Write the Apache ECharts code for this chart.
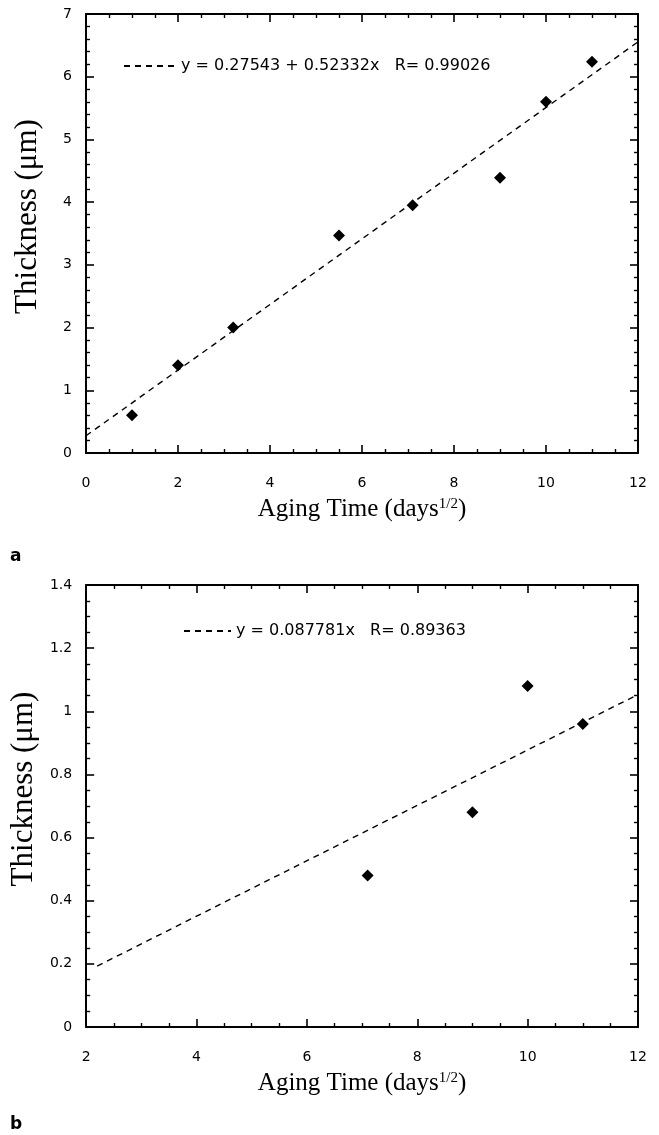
<!DOCTYPE html>
<html>
<head>
<meta charset="utf-8">
<script src="https://cdn.jsdelivr.net/npm/echarts@6/dist/echarts.min.js"></script>
<style>
html,body{margin:0;padding:0;background:#fff;}
#chart{width:659px;height:1135px;}
</style>
</head>
<body>
<div id="chart"></div>
<script>
// ---- Data ----
// Panel a
const agingA = [1, 2, 3.2, 5.5, 7.1, 9, 10, 11];
const thickA = [0.6, 1.4, 2.0, 3.47, 3.95, 4.39, 5.6, 6.24];
const fitAx = [0, 12];
const fitAy = [0.275, 6.555];
const fitAName = 'y = 0.27543 + 0.52332x   R= 0.99026';
// Panel b
const agingB = [7.1, 9, 10, 11];
const thickB = [0.48, 0.68, 1.08, 0.96];
const fitBx = [2.2, 12];
const fitBy = [0.193, 1.053];
const fitBName = 'y = 0.087781x   R= 0.89363';
// Axis texts
const xTitle = 'Aging Time (days{sup|1/2})';
const yTitle = 'Thickness (\u03bcm)';
const panelLabels = ['a', 'b'];

const toPairs = (xs, ys) => xs.map((x, i) => [x, ys[i]]);

const SANS = 'DejaVu Sans';
const SERIF = 'Liberation Serif';

function xAxisDef(grid, min, max, pos, showLabels) {
  return {
    type: 'value', gridIndex: grid, position: pos, min: min, max: max, interval: 2,
    axisLine: {show: true, onZero: false, lineStyle: {color: '#000', width: 2}},
    axisTick: {show: true, inside: true, length: 8, lineStyle: {color: '#000', width: 1.6}},
    minorTick: {show: true, splitNumber: 4, length: 4, lineStyle: {color: '#000', width: 1.4}},
    splitLine: {show: false},
    axisLabel: {show: showLabels, margin: 23, color: '#000', fontFamily: SANS, fontSize: 14},
    name: showLabels ? xTitle : '',
    nameLocation: 'middle',
    nameGap: 44,
    nameTextStyle: {
      color: '#000', fontFamily: SERIF, fontSize: 25, verticalAlign: 'top',
      rich: {sup: {fontFamily: SERIF, fontSize: 15, verticalAlign: 'top', color: '#000'}}
    }
  };
}
function yAxisDef(grid, min, max, interval, minorSplit, pos, showLabels) {
  return {
    type: 'value', gridIndex: grid, position: pos, min: min, max: max, interval: interval,
    axisLine: {show: true, onZero: false, lineStyle: {color: '#000', width: 2}},
    axisTick: {show: true, inside: true, length: 8, lineStyle: {color: '#000', width: 1.6}},
    minorTick: {show: true, splitNumber: minorSplit, length: 4, lineStyle: {color: '#000', width: 1.4}},
    splitLine: {show: false},
    axisLabel: {show: showLabels, margin: 14, color: '#000', fontFamily: SANS, fontSize: 14},
    name: showLabels ? yTitle : '',
    nameLocation: 'middle',
    nameGap: 43,
    nameTextStyle: {color: '#000', fontFamily: SERIF, fontSize: 31, padding: [0, 0, 0, 34]}
  };
}

const legendCommon = {
  padding: 0, itemHeight: 14, selectedMode: false,
  itemStyle: {opacity: 0},
  textStyle: {color: '#000', fontFamily: SANS, fontSize: 16}
};

const chart = echarts.init(document.getElementById('chart'), null, {renderer: 'canvas'});
chart.setOption({
  backgroundColor: '#fff',
  animation: false,
  grid: [
    {left: 86, top: 14, width: 552, height: 439},
    {left: 85, top: 585, width: 553, height: 442}
  ],
  xAxis: [
    xAxisDef(0, 0, 12, 'bottom', true),
    xAxisDef(0, 0, 12, 'top', false),
    xAxisDef(1, 2, 12, 'bottom', true),
    xAxisDef(1, 2, 12, 'top', false)
  ],
  yAxis: [
    yAxisDef(0, 0, 7, 1, 5, 'left', true),
    yAxisDef(0, 0, 7, 1, 5, 'right', false),
    yAxisDef(1, 0, 1.4, 0.2, 4, 'left', true),
    yAxisDef(1, 0, 1.4, 0.2, 4, 'right', false)
  ],
  legend: [
    Object.assign({data: [fitAName], left: 123, top: 58, itemWidth: 52}, legendCommon),
    Object.assign({data: [fitBName], left: 183, top: 623, itemWidth: 47}, legendCommon)
  ],
  series: [
    {name: fitAName, type: 'line', xAxisIndex: 0, yAxisIndex: 0, data: toPairs(fitAx, fitAy),
     symbol: 'none', itemStyle: {color: '#000'}, lineStyle: {color: '#000', width: 1.4, type: [6, 5]}, z: 2},
    {name: 'dataA', type: 'scatter', xAxisIndex: 0, yAxisIndex: 0, data: toPairs(agingA, thickA),
     symbol: 'diamond', symbolSize: 12, itemStyle: {color: '#000', opacity: 1}, z: 3},
    {name: fitBName, type: 'line', xAxisIndex: 2, yAxisIndex: 2, data: toPairs(fitBx, fitBy),
     symbol: 'none', itemStyle: {color: '#000'}, lineStyle: {color: '#000', width: 1.4, type: [6, 5]}, z: 2},
    {name: 'dataB', type: 'scatter', xAxisIndex: 2, yAxisIndex: 2, data: toPairs(agingB, thickB),
     symbol: 'diamond', symbolSize: 12, itemStyle: {color: '#000', opacity: 1}, z: 3}
  ],
  graphic: [
    {type: 'text', left: 10, top: 548, style: {text: panelLabels[0], fill: '#000', font: 'bold 17px "DejaVu Sans"'}},
    {type: 'text', left: 10, top: 1116, style: {text: panelLabels[1], fill: '#000', font: 'bold 17px "DejaVu Sans"'}}
  ]
});
</script>
</body>
</html>
